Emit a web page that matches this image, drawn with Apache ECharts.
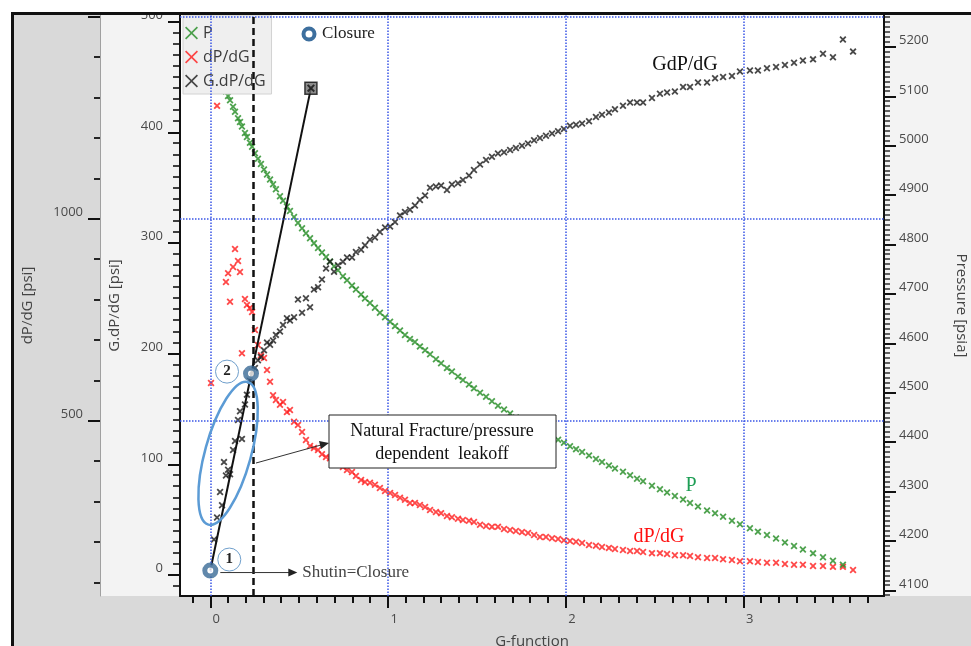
<!DOCTYPE html>
<html>
<head>
<meta charset="utf-8">
<script src="https://cdn.jsdelivr.net/npm/echarts@6/dist/echarts.min.js"></script>
<style>
  html, body { margin: 0; padding: 0; background: #fff; }
  #wrap { position: relative; width: 971px; height: 646px; overflow: hidden; background: #fff; }
  .panel { position: absolute; }
  #chart { position: absolute; left: 0; top: 0; width: 971px; height: 646px; }
</style>
</head>
<body>
<div id="wrap">
  <div class="panel" style="left:13px;top:13px;width:958px;height:633px;background:#d9d9d9"></div>
  <div class="panel" style="left:100px;top:13px;width:871px;height:583px;background:#f3f3f3"></div>
  <div id="chart"></div>
  <div class="panel" style="left:0;top:0;width:971px;height:12px;background:#fff;z-index:5"></div>
  <div class="panel" style="left:11px;top:12px;width:960px;height:3px;background:#111;z-index:6"></div>
  <div class="panel" style="left:11px;top:12px;width:3px;height:634px;background:#111;z-index:6"></div>
</div>
<script>
// G-function time steps shared by the three derived curves
const gFunction = [
  0.004,0.021,0.038,0.055,0.066,0.077,0.088,0.100,0.111,0.128,
  0.139,0.156,0.167,0.178,0.195,0.206,0.223,0.235,0.251,0.268,
  0.285,0.302,0.319,0.336,0.353,0.369,0.392,0.409,0.431,0.448,
  0.471,0.493,0.516,0.538,0.561,0.583,0.606,0.628,0.651,0.673,
  0.696,0.718,0.746,0.769,0.797,0.819,0.848,0.870,0.898,0.926,
  0.954,0.983,1.011,1.039,1.067,1.095,1.123,1.151,1.179,1.208,
  1.236,1.269,1.298,1.331,1.359,1.393,1.421,1.455,1.483,1.517,
  1.551,1.584,1.618,1.652,1.686,1.719,1.753,1.787,1.821,1.854,
  1.888,1.922,1.956,1.989,2.023,2.057,2.091,2.130,2.169,2.203,
  2.242,2.276,2.321,2.361,2.400,2.434,2.484,2.529,2.569,2.613,
  2.659,2.698,2.743,2.794,2.839,2.884,2.934,2.979,3.035,3.080,
  3.131,3.182,3.232,3.283,3.333,3.390,3.446,3.502,3.558,3.615
];

// Bottomhole pressure, psia (right axis)
const pressure = [
  null,null,5153,5139,5129,5119,5110,5101,5092,5079,
  5069,5056,5048,5039,5026,5018,5006,4998,4985,4974,
  4963,4952,4942,4932,4922,4912,4898,4889,4877,4868,
  4856,4844,4833,4823,4813,4803,4793,4784,4775,4766,
  4756,4748,4736,4728,4717,4709,4699,4691,4682,4672,
  4662,4653,4644,4635,4626,4617,4609,4603,4594,4586,
  4578,4568,4560,4550,4543,4533,4526,4517,4509,4500,
  4492,4483,4474,4466,4458,4450,4443,4437,4430,4424,
  4418,4411,4405,4399,4392,4386,4380,4373,4366,4360,
  4353,4347,4340,4333,4326,4321,4312,4305,4298,4291,
  4284,4277,4270,4262,4256,4249,4241,4234,4226,4219,
  4212,4205,4197,4190,4183,4175,4167,4160,4152,null
];

// Pressure derivative dP/dG, psi (outer left axis)
const dPdG = [
  594,null,1280,null,null,null,844,866,795,881,
  926,896,869,668,802,787,780,770,725,688,
  663,656,626,597,564,552,540,547,522,527,
  498,490,473,453,438,433,428,418,411,408,
  403,394,386,379,374,364,354,349,347,342,
  334,327,322,317,310,305,297,297,292,287,
  280,275,272,265,262,258,255,253,250,243,
  240,238,238,233,230,228,225,223,218,213,
  213,210,208,205,203,201,198,193,191,188,
  186,183,181,178,178,176,173,173,171,168,
  168,166,163,161,161,158,156,153,153,151,
  149,149,146,144,144,141,141,139,139,131
];

// Superposition derivative G.dP/dG, psi (inner left axis)
const gdPdG = [
  null,32,52,75,63,102,90,95,91,113,
  121,140,148,123,154,163,176,184,187,194,
  197,203,210,208,212,217,220,226,232,230,
  233,249,237,250,242,258,260,267,277,283,
  274,280,283,287,287,292,294,298,303,305,
  310,314,315,319,325,328,330,334,339,343,
  350,351,352,348,353,354,357,361,366,371,
  375,378,381,382,384,386,388,390,393,395,
  397,399,401,403,406,407,408,410,414,416,
  418,421,424,427,427,427,431,435,436,437,
  441,441,445,445,449,450,451,455,456,456,
  458,459,461,463,465,466,471,468,484,473
];

// Closure picks: (1) at shut-in, (2) departure from the straight line
const closureG = [0, 0.229];
const closureGdP = [4, 182];
// Straight line through the origin on G.dP/dG
const tangentG = [0, 0.566];
const tangentGdP = [4, 440];
const closureLineG = 0.245;

// Axis labels
const gLabels = [0, 1, 2, 3];
const gdpLabels = [0, 100, 200, 300, 400, 500];
const dpdgLabels = [500, 1000];
const dpdgMajorTicks = [500, 1000, 1500];
const pressureLabels = [4100, 4200, 4300, 4400, 4500, 4600, 4700, 4800, 4900, 5000, 5100, 5200];

// Axis extents
const G_MIN = -0.1704, G_MAX = 3.7891;
const GDP_MIN = -19, GDP_MAX = 506.1;
const DPDG_MIN = 66.9, DPDG_MAX = 1504.9;
const P_MIN = 4088.7, P_MAX = 5264.8;

const GRID = { left: 180, right: 87, top: 15, bottom: 50 };
const W = 971, H = 646;
const DPDG_OFFSET = 80;

function minorTicks(start, stop, step, majors) {
  const out = [];
  const n = Math.round((stop - start) / step);
  for (let k = 0; k <= n; k++) {
    const r = Math.round((start + k * step) * 1000) / 1000;
    if (!majors.some(m => Math.abs(m - r) < 1e-6)) out.push(r);
  }
  return out;
}
function pairs(values) {
  const out = [];
  gFunction.forEach((g, i) => { if (values[i] != null) out.push([g, values[i]]); });
  return out;
}

const SANS = "'Open Sans', 'Noto Sans', sans-serif";
const SERIF = "'Liberation Serif', 'DejaVu Serif', serif";
const X_MARK = 'path://M0,1.8L1.8,0L5,3.2L8.2,0L10,1.8L6.8,5L10,8.2L8.2,10L5,6.8L1.8,10L0,8.2L3.2,5Z';
const X_LEGEND = 'path://M0,0.9L0.9,0L5,4.1L9.1,0L10,0.9L5.9,5L10,9.1L9.1,10L5,5.9L0.9,10L0,9.1L4.1,5Z';

const plain = v => String(v);
const labelBase = { fontSize: 13, color: '#4a4a4a', fontFamily: SANS, formatter: plain };
const nameBase = { fontSize: 15, color: '#444', fontFamily: SANS };

const chart = echarts.init(document.getElementById('chart'), null, { renderer: 'canvas', width: W, height: H });

const option = {
  animation: false,
  backgroundColor: 'transparent',
  grid: {
    left: GRID.left, right: GRID.right, top: GRID.top, bottom: GRID.bottom,
    containLabel: false, outerBoundsMode: 'none',
    show: true, backgroundColor: '#ffffff', borderWidth: 0
  },
  legend: {
    orient: 'vertical', left: 183, top: 15,
    itemWidth: 13, itemHeight: 13, itemGap: 8,
    padding: [10, 6, 5, 2],
    backgroundColor: '#efefef', borderColor: '#d2d2d2', borderWidth: 1,
    textStyle: { fontSize: 16, color: '#3c3c3c', fontFamily: SANS },
    data: [
      { name: 'P', icon: X_LEGEND },
      { name: 'dP/dG', icon: X_LEGEND },
      { name: 'G.dP/dG', icon: X_LEGEND }
    ]
  },
  xAxis: [{
    type: 'value', min: G_MIN, max: G_MAX, position: 'bottom',
    axisLine: { show: true, onZero: false, lineStyle: { color: '#111', width: 2 } },
    axisTick: { show: true, interval: 0, customValues: gLabels, length: 12, lineStyle: { color: '#111', width: 2 } },
    axisLabel: Object.assign({ customValues: gLabels, margin: 17, padding: [0, 0, 0, 12] }, labelBase),
    splitLine: { show: false },
    name: 'G-function', nameLocation: 'middle', nameGap: 38, nameTextStyle: nameBase
  }],
  yAxis: [
    {
      type: 'value', min: GDP_MIN, max: GDP_MAX, position: 'left',
      axisLine: { show: true, onZero: false, lineStyle: { color: '#111', width: 2 } },
      axisTick: { show: true, interval: 0, customValues: gdpLabels, length: 12, lineStyle: { color: '#111', width: 2 } },
      axisLabel: Object.assign({ customValues: gdpLabels, margin: 17, verticalAlign: 'bottom' }, labelBase),
      splitLine: { show: false },
      name: 'G.dP/dG [psi]', nameLocation: 'middle', nameGap: 58, nameTextStyle: nameBase
    },
    {
      type: 'value', min: DPDG_MIN, max: DPDG_MAX, position: 'left', offset: DPDG_OFFSET,
      axisLine: { show: true, onZero: false, lineStyle: { color: '#a0a0a0', width: 1 } },
      axisTick: { show: true, interval: 0, customValues: dpdgMajorTicks, length: 12, lineStyle: { color: '#111', width: 2 } },
      axisLabel: Object.assign({ customValues: dpdgLabels, margin: 17, verticalAlign: 'bottom' }, labelBase),
      splitLine: { show: false },
      name: 'dP/dG [psi]', nameLocation: 'middle', nameGap: 65, nameTextStyle: nameBase
    },
    {
      type: 'value', min: P_MIN, max: P_MAX, position: 'right',
      axisLine: { show: true, onZero: false, lineStyle: { color: '#111', width: 2 } },
      axisTick: { show: true, interval: 0, customValues: pressureLabels, length: 12, lineStyle: { color: '#111', width: 2 } },
      axisLabel: Object.assign({ customValues: pressureLabels, margin: 15, verticalAlign: 'bottom' }, labelBase),
      splitLine: { show: false },
      name: 'Pressure [psia]', nameLocation: 'middle', nameGap: 70, nameRotate: -90, nameTextStyle: nameBase
    }
  ],
  series: [
    {
      name: 'gridlines', type: 'scatter', xAxisIndex: 0, yAxisIndex: 1, data: [], silent: true,
      markLine: {
        silent: true, symbol: 'none', label: { show: false }, animation: false,
        lineStyle: { color: '#3a55e6', type: 'dotted', width: 1.5 },
        data: [
          { xAxis: gLabels[0] }, { xAxis: gLabels[1] }, { xAxis: gLabels[2] }, { xAxis: gLabels[3] },
          { yAxis: dpdgMajorTicks[0] }, { yAxis: dpdgMajorTicks[1] }, { yAxis: dpdgMajorTicks[2] }
        ]
      }
    },
    {
      name: 'closure time', type: 'scatter', xAxisIndex: 0, yAxisIndex: 0, data: [], silent: true,
      markLine: {
        silent: true, symbol: 'none', label: { show: false }, animation: false,
        lineStyle: { color: '#111', type: [7, 4], width: 2.5 },
        data: [{ xAxis: closureLineG }]
      }
    },
    {
      name: 'dP/dG', type: 'scatter', xAxisIndex: 0, yAxisIndex: 1,
      data: pairs(dPdG), symbol: X_MARK, symbolSize: 7,
      itemStyle: { color: '#ff1a1a' }
    },
    {
      name: 'P', type: 'scatter', xAxisIndex: 0, yAxisIndex: 2,
      data: pairs(pressure), symbol: X_MARK, symbolSize: 7,
      itemStyle: { color: '#228b22' }
    },
    {
      name: 'G.dP/dG', type: 'scatter', xAxisIndex: 0, yAxisIndex: 0,
      data: pairs(gdPdG), symbol: X_MARK, symbolSize: 7,
      itemStyle: { color: '#1a1a1a' }
    },
    {
      name: 'straight line', type: 'line', xAxisIndex: 0, yAxisIndex: 0, z: 3,
      data: tangentG.map((g, i) => [g, tangentGdP[i]]),
      showSymbol: false, symbol: 'none',
      lineStyle: { color: '#111', width: 2 }
    },
    {
      name: 'line end', type: 'scatter', xAxisIndex: 0, yAxisIndex: 0, z: 4,
      data: [[tangentG[1], tangentGdP[1]]], symbol: 'rect', symbolSize: 12,
      itemStyle: { color: '#707070', borderColor: '#111', borderWidth: 1.5 }
    },
    {
      name: 'line end cross', type: 'scatter', xAxisIndex: 0, yAxisIndex: 0, z: 5,
      data: [[tangentG[1], tangentGdP[1]]], symbol: X_MARK, symbolSize: 8,
      itemStyle: { color: '#111' }
    },
    {
      name: 'Closure', type: 'scatter', xAxisIndex: 0, yAxisIndex: 0, z: 6,
      data: closureG.map((g, i) => [g, closureGdP[i]]), symbol: 'circle', symbolSize: 11,
      itemStyle: { color: '#ffffff', borderColor: '#3a6a96', borderWidth: 5 }
    }
  ],
  graphic: { elements: [] }
};

chart.setOption(option);

function px(g, v, yIdx) {
  return chart.convertToPixel({ xAxisIndex: 0, yAxisIndex: yIdx }, [g, v]);
}

// Minor ticks on every axis, measured from the axis scales
const Z = 100;
const plotBottom = H - GRID.bottom, plotRight = W - GRID.right;
const ticks = [];
function hTick(x0, len, y, width) {
  ticks.push({ type: 'line', z: Z, silent: true, shape: { x1: x0, y1: y, x2: x0 + len, y2: y }, style: { stroke: '#111', lineWidth: width } });
}
minorTicks(-0.1, 3.7, 0.1, gLabels).forEach(g => {
  const x = Math.round(px(g, 0, 0)[0]);
  ticks.push({ type: 'line', z: Z, silent: true, shape: { x1: x, y1: plotBottom, x2: x, y2: plotBottom + 7 }, style: { stroke: '#111', lineWidth: 2 } });
});
minorTicks(-10, 500, 10, gdpLabels).forEach(v => {
  hTick(GRID.left, -7, Math.round(px(0, v, 0)[1]), 1.6);
});
minorTicks(100, 1400, 100, dpdgMajorTicks).forEach(v => {
  hTick(GRID.left - DPDG_OFFSET, -6, Math.round(px(0, v, 1)[1]), 1.8);
});
minorTicks(4090, 5260, 10, pressureLabels).forEach(v => {
  hTick(plotRight, 6, Math.round(px(0, v, 2)[1]), 1.3);
});

// Annotations placed against the plotted coordinates
const c1 = px(closureG[0], closureGdP[0], 0);
const c2 = px(closureG[1], closureGdP[1], 0);
const ell = px(0.10, 110, 0);
const notes = [
  // closure key
  { type: 'circle', z: Z, shape: { cx: 309, cy: 34, r: 5.5 }, style: { fill: '#fff', stroke: '#3d6f9e', lineWidth: 4 } },
  { type: 'text', z: Z, style: { text: 'Closure', x: 322, y: 34, font: '17px ' + SERIF, fill: '#222', verticalAlign: 'middle', align: 'left' } },
  // leakoff ellipse
  { type: 'ellipse', z: Z, x: ell[0], y: ell[1], rotation: -0.27, shape: { cx: 0, cy: 0, rx: 23, ry: 74 }, style: { fill: 'none', stroke: '#5b9bd5', lineWidth: 2.5 } },
  // numbered closure tags
  { type: 'circle', z: Z, shape: { cx: c1[0] + 19, cy: c1[1] - 11, r: 11.5 }, style: { fill: '#fff', stroke: '#6f9fcc', lineWidth: 1 } },
  { type: 'text', z: Z, style: { text: '1', x: c1[0] + 19, y: c1[1] - 11, font: 'bold 15px ' + SERIF, fill: '#222', align: 'center', verticalAlign: 'middle' } },
  { type: 'circle', z: Z, shape: { cx: c2[0] - 24, cy: c2[1] - 2, r: 11.5 }, style: { fill: '#fff', stroke: '#6f9fcc', lineWidth: 1 } },
  { type: 'text', z: Z, style: { text: '2', x: c2[0] - 24, y: c2[1] - 2, font: 'bold 15px ' + SERIF, fill: '#222', align: 'center', verticalAlign: 'middle' } },
  // shut-in arrow
  { type: 'line', z: Z, shape: { x1: c1[0] + 10, y1: c1[1] + 2, x2: c1[0] + 80, y2: c1[1] + 2 }, style: { stroke: '#333', lineWidth: 1 } },
  { type: 'polygon', z: Z, shape: { points: [[c1[0] + 78, c1[1] - 2], [c1[0] + 87, c1[1] + 2], [c1[0] + 78, c1[1] + 6]] }, style: { fill: '#222' } },
  { type: 'text', z: Z, style: { text: 'Shutin=Closure', x: c1[0] + 92, y: c1[1] + 2, font: '17px ' + SERIF, fill: '#444', align: 'left', verticalAlign: 'middle' } },
  // leakoff callout
  { type: 'line', z: Z, shape: { x1: 256, y1: 463, x2: 321, y2: 445 }, style: { stroke: '#333', lineWidth: 1 } },
  { type: 'polygon', z: Z, shape: { points: [[319, 441], [329, 443], [321, 449]] }, style: { fill: '#222' } },
  { type: 'rect', z: Z, shape: { x: 329, y: 415, width: 227, height: 53 }, style: { fill: '#fff', stroke: '#222', lineWidth: 1 } },
  { type: 'text', z: Z, style: { text: 'Natural Fracture/pressure', x: 442, y: 431, font: '18px ' + SERIF, fill: '#111', align: 'center', verticalAlign: 'middle' } },
  { type: 'text', z: Z, style: { text: 'dependent  leakoff', x: 442, y: 454, font: '18px ' + SERIF, fill: '#111', align: 'center', verticalAlign: 'middle' } },
  // curve names
  { type: 'text', z: Z, style: { text: 'GdP/dG', x: 685, y: 65, font: '20px ' + SERIF, fill: '#111', align: 'center', verticalAlign: 'middle' } },
  { type: 'text', z: Z, style: { text: 'P', x: 691, y: 486, font: '20px ' + SERIF, fill: '#1e9e55', align: 'center', verticalAlign: 'middle' } },
  { type: 'text', z: Z, style: { text: 'dP/dG', x: 659, y: 537, font: '20px ' + SERIF, fill: '#ff1010', align: 'center', verticalAlign: 'middle' } }
];
chart.setOption({ graphic: { elements: ticks.concat(notes) } });
</script>
</body>
</html>
